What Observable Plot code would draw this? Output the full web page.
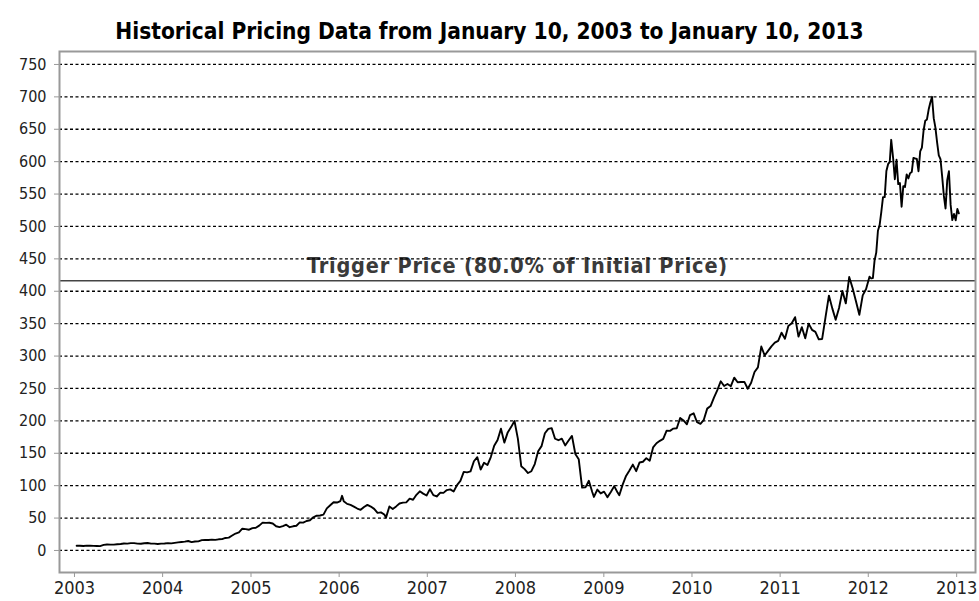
<!DOCTYPE html>
<html>
<head>
<meta charset="utf-8">
<script src="https://cdn.jsdelivr.net/npm/d3@7"></script>
<script src="https://cdn.jsdelivr.net/npm/@observablehq/plot@0.6"></script>
<style>
  body { margin: 0; background: #fff; }
  #title { height: 40px; box-sizing: border-box; padding-top: 20px; text-align: center; white-space: nowrap;
           font: bold 22.5px "DejaVu Sans Condensed", "DejaVu Sans", sans-serif; line-height: 1; color: #000; width: 979px; }
  .trigger-label text { letter-spacing: 0.8px; }
</style>
</head>
<body>
<div id="title"></div>
<div id="chart"></div>
<script>
const titleText = "Historical Pricing Data from January 10, 2003 to January 10, 2013";
const triggerLabel = "Trigger Price (80.0% of Initial Price)";
const triggerPrice = 416.14;
const yTicks = [0, 50, 100, 150, 200, 250, 300, 350, 400, 450, 500, 550, 600, 650, 700, 750];
const xTickYears = ["2003", "2004", "2005", "2006", "2007", "2008", "2009", "2010", "2011", "2012", "2013"];

const dates = [
  "2003-01-10","2003-01-24","2003-02-07","2003-02-21","2003-03-07","2003-03-21","2003-04-04","2003-04-17","2003-05-02","2003-05-16","2003-05-30","2003-06-13","2003-06-27","2003-07-11","2003-07-25","2003-08-08","2003-08-22","2003-09-05","2003-09-19","2003-10-03","2003-10-17","2003-10-31","2003-11-14","2003-11-28","2003-12-12","2003-12-26",
  "2004-01-09","2004-01-23","2004-02-06","2004-02-20","2004-03-05","2004-03-19","2004-04-02","2004-04-16","2004-04-30","2004-05-14","2004-05-28","2004-06-11","2004-06-25","2004-07-09","2004-07-23","2004-08-06","2004-08-20","2004-09-03","2004-09-17","2004-10-01","2004-10-15","2004-10-29","2004-11-12","2004-11-26","2004-12-10","2004-12-24",
  "2005-01-07","2005-01-21","2005-02-04","2005-02-18","2005-03-04","2005-03-18","2005-04-01","2005-04-15","2005-04-29","2005-05-13","2005-05-27","2005-06-10","2005-06-24","2005-07-08","2005-07-22","2005-08-05","2005-08-19","2005-09-02","2005-09-16","2005-09-30","2005-10-14","2005-10-28","2005-11-11","2005-11-25","2005-12-09","2005-12-23",
  "2006-01-06","2006-01-13","2006-01-20","2006-02-03","2006-02-17","2006-03-03","2006-03-17","2006-03-31","2006-04-14","2006-04-28","2006-05-12","2006-05-26","2006-06-09","2006-06-23","2006-07-07","2006-07-14","2006-07-28","2006-08-11","2006-08-25","2006-09-08","2006-09-22","2006-10-06","2006-10-20","2006-11-03","2006-11-17","2006-12-01","2006-12-15","2006-12-29",
  "2007-01-12","2007-01-26","2007-02-09","2007-02-23","2007-03-09","2007-03-23","2007-04-06","2007-04-20","2007-05-04","2007-05-18","2007-06-01","2007-06-15","2007-06-29","2007-07-13","2007-07-27","2007-08-10","2007-08-24","2007-09-07","2007-09-21","2007-10-05","2007-10-19","2007-11-02","2007-11-16","2007-11-30","2007-12-14","2007-12-28",
  "2008-01-11","2008-01-25","2008-02-08","2008-02-22","2008-03-07","2008-03-21","2008-04-04","2008-04-18","2008-05-02","2008-05-16","2008-05-30","2008-06-13","2008-06-27","2008-07-11","2008-07-25","2008-08-08","2008-08-22","2008-09-05","2008-09-19","2008-10-03","2008-10-17","2008-10-31","2008-11-14","2008-11-21","2008-12-05","2008-12-19",
  "2009-01-02","2009-01-16","2009-01-30","2009-02-13","2009-02-27","2009-03-06","2009-03-20","2009-04-03","2009-04-17","2009-05-01","2009-05-15","2009-05-29","2009-06-12","2009-06-26","2009-07-10","2009-07-24","2009-08-07","2009-08-21","2009-09-04","2009-09-18","2009-10-02","2009-10-16","2009-10-30","2009-11-13","2009-11-27","2009-12-11","2009-12-24",
  "2010-01-08","2010-01-22","2010-02-05","2010-02-19","2010-03-05","2010-03-19","2010-04-02","2010-04-16","2010-04-30","2010-05-14","2010-05-28","2010-06-11","2010-06-25","2010-07-09","2010-07-23","2010-08-06","2010-08-20","2010-09-03","2010-09-17","2010-10-01","2010-10-15","2010-10-29","2010-11-12","2010-11-26","2010-12-10","2010-12-24",
  "2011-01-07","2011-01-21","2011-02-04","2011-02-18","2011-03-04","2011-03-18","2011-04-01","2011-04-15","2011-04-29","2011-05-13","2011-05-27","2011-06-10","2011-06-24","2011-07-08","2011-07-22","2011-08-05","2011-08-19","2011-09-02","2011-09-16","2011-09-30","2011-10-14","2011-10-28","2011-11-11","2011-11-25","2011-12-09","2011-12-23",
  "2012-01-06","2012-01-13","2012-01-20","2012-01-27","2012-02-03","2012-02-10","2012-02-17","2012-02-24","2012-03-02","2012-03-09","2012-03-16","2012-03-23","2012-03-30","2012-04-05","2012-04-13","2012-04-20","2012-04-27","2012-05-04","2012-05-11","2012-05-18","2012-05-25","2012-06-01","2012-06-08","2012-06-15","2012-06-22","2012-06-29",
  "2012-07-06","2012-07-13","2012-07-20","2012-07-27","2012-08-03","2012-08-10","2012-08-17","2012-08-24","2012-08-31","2012-09-07","2012-09-14","2012-09-21","2012-09-28","2012-10-05","2012-10-12","2012-10-19","2012-10-26","2012-11-02","2012-11-09","2012-11-16","2012-11-23","2012-11-30","2012-12-07","2012-12-14","2012-12-21","2012-12-28",
  "2013-01-04","2013-01-10"
];
const prices = [
  7.3,7.2,6.9,7.5,7.3,7.1,7.0,6.7,8.6,9.3,9.0,9.0,9.5,10.0,10.8,10.5,11.3,11.4,10.6,10.4,11.2,11.5,10.5,10.5,10.0,10.5,
  10.8,11.3,10.9,11.8,12.5,13.1,13.6,14.6,12.9,13.9,14.1,16.0,16.3,16.2,16.7,16.3,17.2,17.5,19.3,19.8,23.0,26.1,27.8,33.6,33.0,32.0,
  34.5,35.0,38.3,43.0,42.6,42.8,41.7,37.3,36.1,37.5,39.8,35.9,37.3,38.2,43.3,42.9,45.5,46.6,51.2,53.6,54.0,55.3,64.9,69.7,74.3,74.0,
  76.3,84.3,76.1,71.9,70.3,67.7,64.7,62.7,67.0,70.4,67.8,64.2,58.0,58.8,55.4,50.7,67.9,64.1,68.0,72.5,73.9,74.2,79.9,78.3,85.9,91.3,87.7,84.8,
  94.6,85.4,83.3,89.0,88.9,93.2,94.3,90.9,100.8,107.3,121.3,120.5,122.0,137.7,143.9,125.0,135.3,131.8,144.2,161.5,170.4,187.9,166.4,182.2,190.4,199.8,
  172.7,130.0,125.5,119.5,122.3,133.3,153.1,161.0,180.9,187.6,188.8,172.4,170.1,172.6,162.1,169.6,176.8,148.9,140.9,97.1,97.4,107.6,90.2,82.6,94.0,88.0,
  90.8,82.3,90.1,99.3,89.3,85.3,101.6,115.0,123.4,132.5,122.4,135.8,136.9,142.4,138.5,159.0,165.5,169.2,172.2,185.0,184.6,188.1,188.5,204.5,200.6,194.7,209.0,
  211.6,197.9,195.5,201.7,218.9,222.8,235.9,247.4,261.1,253.8,256.9,253.5,266.7,259.6,259.9,260.1,249.6,258.8,275.4,282.5,314.7,300.9,308.0,315.0,320.6,323.3,
  336.1,326.7,346.5,350.6,360.0,330.0,344.6,327.5,350.1,340.5,337.4,325.9,326.4,360.0,393.3,373.6,356.0,374.1,400.5,381.3,422.0,404.9,384.6,363.6,393.6,403.4,
  422.4,419.8,420.3,447.3,459.7,493.4,502.1,522.4,545.2,545.2,585.6,596.1,599.6,633.7,605.2,572.9,603.0,565.3,567.0,530.4,562.3,560.9,580.3,574.1,582.1,584.0,
  605.9,604.9,604.3,585.2,615.7,621.7,648.1,663.2,665.2,680.4,691.3,700.1,667.1,652.6,629.7,609.8,604.0,576.8,547.1,527.7,571.5,585.3,533.3,509.8,519.3,509.6,
  527.0,520.2
];

document.getElementById("title").textContent = titleText;

const data = dates.map((d, i) => ({date: new Date(d + "T00:00:00Z"), price: prices[i]}));
const xTicks = xTickYears.map(y => new Date(y + "-01-01T00:00:00Z"));

const chart = Plot.plot({
  width: 979,
  height: 561,
  marginLeft: 59,
  marginRight: 4,
  marginTop: 11,
  marginBottom: 29,
  style: {background: "#fff", fontFamily: "'DejaVu Sans Condensed', 'DejaVu Sans', sans-serif", color: "#000"},
  x: {type: "utc", domain: [new Date("2002-10-31T00:00:00Z"), new Date("2013-03-20T00:00:00Z")], label: null},
  y: {domain: [-34, 770], label: null},
  marks: [
    Plot.text([triggerLabel], {frameAnchor: "middle", y: () => triggerPrice, text: d => d, dy: -15,
      fontSize: 21.5, fontWeight: "bold", fill: "#3a3a3a", className: "trigger-label"}),
    Plot.ruleY(yTicks, {stroke: "#000", strokeWidth: 1.3, strokeDasharray: "3,2.5"}),
    Plot.ruleY([triggerPrice], {stroke: "#444", strokeWidth: 1.6}),
    Plot.line(data, {x: "date", y: "price", stroke: "#000", strokeWidth: 1.9}),
    Plot.frame({stroke: "#999", strokeWidth: 2}),
    Plot.axisY({ticks: yTicks, label: null, tickSize: 5, tickPadding: 8, fontSize: 16, stroke: "#999", fill: "#222"}),
    Plot.axisX({ticks: xTicks, label: null, tickFormat: d3.utcFormat("%Y"), tickSize: 5, tickPadding: 4, fontSize: 18, stroke: "#999", fill: "#222"})
  ]
});
document.getElementById("chart").appendChild(chart);
</script>
</body>
</html>
